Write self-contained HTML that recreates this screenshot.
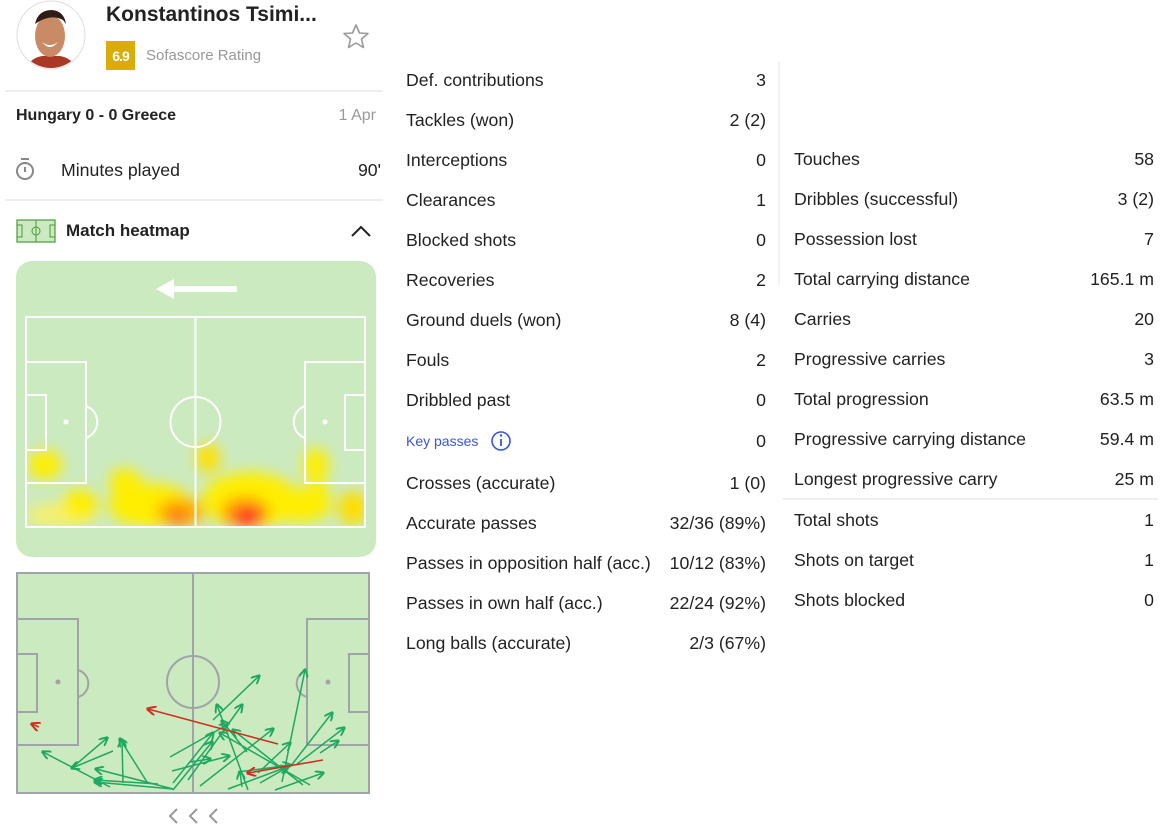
<!DOCTYPE html>
<html><head><meta charset="utf-8"><style>
*{margin:0;padding:0;box-sizing:border-box}
body{width:1175px;height:837px;background:#fff;font-family:"Liberation Sans",sans-serif;color:#222;position:relative;overflow:hidden}
.a{position:absolute;white-space:nowrap}
.l{font-size:17.7px;line-height:20px}
.r{font-size:17.7px;line-height:20px;text-align:right}
</style></head><body>
<svg class="a" style="left:0;top:0" width="1175" height="837">
 <circle cx="51" cy="35" r="34" fill="#fff" stroke="#ddd"/>
 <clipPath id="cp"><circle cx="51" cy="35" r="33"/></clipPath>
 <g clip-path="url(#cp)">
  <path d="M25 70 Q30 58 42 56 L60 56 Q72 58 78 70Z" fill="#a83a25"/>
  <ellipse cx="50" cy="36" rx="15" ry="21" fill="#c98a66"/>
  <path d="M35 24 Q38 10 52 10 Q64 11 66 24 L63 20 Q52 14 38 22Z" fill="#2d1d14"/>
  <path d="M42 42 Q50 48 58 42 Q50 52 42 42Z" fill="#fff"/>
 </g>
 <rect x="106" y="41" width="29" height="29" fill="#d9ac0a"/>
 <text x="120.5" y="61" font-family="Liberation Sans" font-size="14" font-weight="bold" fill="#fff" text-anchor="middle" letter-spacing="-1">6.9</text>
 <path d="M356 25 L359.5 33 L368 33.5 L361.5 39 L363.5 47.5 L356 43 L348.5 47.5 L350.5 39 L344 33.5 L352.5 33 Z" fill="none" stroke="#999" stroke-width="1.6" stroke-linejoin="round"/>
 <line x1="5" y1="91" x2="383" y2="91" stroke="#ddd"/>
 <line x1="5" y1="200" x2="383" y2="200" stroke="#ddd"/>
 <circle cx="25" cy="171" r="8" fill="none" stroke="#888" stroke-width="2"/>
 <line x1="21" y1="159" x2="29" y2="159" stroke="#888" stroke-width="2"/>
 <line x1="25" y1="167" x2="25" y2="172" stroke="#888" stroke-width="2"/>
 <rect x="17" y="220" width="38" height="22" fill="#cbeac0" stroke="#4a9a3a" stroke-width="1.2"/>
 <line x1="36" y1="220" x2="36" y2="242" stroke="#4a9a3a"/>
 <circle cx="36" cy="231" r="4" fill="none" stroke="#4a9a3a"/>
 <rect x="17" y="225" width="5" height="12" fill="none" stroke="#4a9a3a"/>
 <rect x="50" y="225" width="5" height="12" fill="none" stroke="#4a9a3a"/>
 <path d="M352 236 L361 227 L370 236" fill="none" stroke="#222" stroke-width="2"/>
 <rect x="16" y="261" width="360" height="296" rx="16" fill="#cbeac0"/>
 <path d="M172 289 L237 289" stroke="#fff" stroke-width="6"/>
 <path d="M156 289 L174 279 L174 299Z" fill="#fff"/>
 <filter id="bl" x="-50%" y="-50%" width="200%" height="200%"><feGaussianBlur stdDeviation="7"/></filter>
 <clipPath id="pc"><rect x="26" y="317" width="339" height="210"/></clipPath>
 <g clip-path="url(#pc)" filter="url(#bl)">
  <ellipse cx="60" cy="515" rx="35" ry="12" fill="#f4f070"/>
  <ellipse cx="45" cy="465" rx="17" ry="15" fill="#ffee00"/>
  <ellipse cx="80" cy="505" rx="18" ry="16" fill="#ffee00"/>
  <ellipse cx="125" cy="482" rx="16" ry="14" fill="#ffee00"/>
  <ellipse cx="150" cy="505" rx="42" ry="22" fill="#ffee00"/>
  <ellipse cx="208" cy="458" rx="12" ry="15" fill="#ffe000"/>
  <ellipse cx="180" cy="512" rx="24" ry="14" fill="#ffb000"/>
  <ellipse cx="178" cy="516" rx="11" ry="8" fill="#ff7010"/>
  <ellipse cx="250" cy="500" rx="48" ry="28" fill="#ffee00"/>
  <ellipse cx="245" cy="512" rx="24" ry="15" fill="#ff9a00"/>
  <ellipse cx="248" cy="517" rx="15" ry="10" fill="#ff2020"/>
  <ellipse cx="300" cy="505" rx="32" ry="17" fill="#ffee00"/>
  <ellipse cx="316" cy="465" rx="13" ry="17" fill="#ffee00"/>
  <ellipse cx="318" cy="492" rx="11" ry="11" fill="#ffee00"/>
  <ellipse cx="353" cy="508" rx="15" ry="17" fill="#ffdd00"/>
 </g>
 <g fill="none" stroke="#fff" stroke-width="2">
  <rect x="26" y="317" width="339" height="210"/>
  <line x1="195.5" y1="317" x2="195.5" y2="527"/>
  <circle cx="195.5" cy="422" r="25"/>
  <rect x="26" y="362" width="60" height="121"/>
  <rect x="26" y="395" width="20" height="55"/>
  <rect x="305" y="362" width="60" height="121"/>
  <rect x="345" y="395" width="20" height="55"/>
  <path d="M86 406 A17 17 0 0 1 86 438"/>
  <path d="M305 406 A17 17 0 0 0 305 438"/>
 </g>
 <circle cx="66" cy="422" r="2.5" fill="#fff"/><circle cx="325" cy="422" r="2.5" fill="#fff"/>
 <rect x="17" y="573" width="352" height="220" fill="#cbeac0" stroke="#a0a4a8" stroke-width="2"/>
 <g fill="none" stroke="#a0a4a8" stroke-width="2">
  <line x1="193" y1="573" x2="193" y2="793"/>
  <circle cx="193" cy="682" r="26"/>
  <rect x="17" y="619" width="61" height="126"/>
  <rect x="17" y="654" width="20" height="58"/>
  <rect x="307" y="619" width="62" height="126"/>
  <rect x="349" y="654" width="20" height="58"/>
  <path d="M78 670 A14 14 0 0 1 78 697"/>
  <path d="M307 670 A14 14 0 0 0 307 697"/>
 </g>
 <circle cx="58" cy="682" r="2.5" fill="#a0a4a8"/><circle cx="328" cy="682" r="2.5" fill="#a0a4a8"/>
 <defs>
  <marker id="mg" markerWidth="6" markerHeight="6" refX="5" refY="3" orient="auto"><path d="M0 0L6 3L0 6" fill="none" stroke="#1fa860" stroke-width="1.3"/></marker>
  <marker id="mr" markerWidth="6" markerHeight="6" refX="5" refY="3" orient="auto"><path d="M0 0L6 3L0 6" fill="none" stroke="#d03020" stroke-width="1.3"/></marker>
 </defs>
 <g stroke="#1fa860" stroke-width="1.5" marker-end="url(#mg)">
  <line x1="73" y1="767" x2="107" y2="738"/>
  <line x1="113" y1="751" x2="72" y2="768"/>
  <line x1="147" y1="782" x2="120" y2="739"/>
  <line x1="123" y1="783" x2="122" y2="740"/>
  <line x1="110" y1="787" x2="43" y2="752"/>
  <line x1="173" y1="789" x2="96" y2="769"/>
  <line x1="173" y1="789" x2="95" y2="782"/>
  <line x1="158" y1="784" x2="95" y2="780"/>
  <line x1="173" y1="783" x2="213" y2="733"/>
  <line x1="170" y1="757" x2="227" y2="725"/>
  <line x1="173" y1="790" x2="212" y2="742"/>
  <line x1="188" y1="780" x2="242" y2="705"/>
  <line x1="213" y1="720" x2="259" y2="676"/>
  <line x1="172" y1="771" x2="229" y2="756"/>
  <line x1="190" y1="762" x2="210" y2="759"/>
  <line x1="200" y1="786" x2="273" y2="729"/>
  <line x1="248" y1="790" x2="217" y2="705"/>
  <line x1="247" y1="752" x2="222" y2="721"/>
  <line x1="303" y1="785" x2="233" y2="730"/>
  <line x1="242" y1="787" x2="240" y2="772"/>
  <line x1="258" y1="773" x2="290" y2="743"/>
  <line x1="282" y1="782" x2="305" y2="670"/>
  <line x1="290" y1="767" x2="332" y2="713"/>
  <line x1="297" y1="764" x2="344" y2="728"/>
  <line x1="320" y1="753" x2="338" y2="741"/>
  <line x1="275" y1="790" x2="323" y2="773"/>
  <line x1="228" y1="789" x2="287" y2="767"/>
  <line x1="260" y1="783" x2="288" y2="767"/>
  <line x1="310" y1="785" x2="220" y2="733"/>
  <line x1="238" y1="772" x2="290" y2="765"/>
 </g>
 <g stroke="#d03020" stroke-width="1.6" marker-end="url(#mr)">
  <line x1="278" y1="744" x2="148" y2="709"/>
  <line x1="323" y1="760" x2="248" y2="773"/>
  <line x1="39" y1="727" x2="32" y2="724"/>
 </g>
 <g fill="none" stroke="#999" stroke-width="2">
  <path d="M177 809 L170 816 L177 823"/><path d="M197 809 L190 816 L197 823"/><path d="M217 809 L210 816 L217 823"/>
 </g>
 <line x1="779" y1="62" x2="779" y2="285" stroke="#e4e4e4"/>
 <line x1="783" y1="499" x2="1158" y2="499" stroke="#ddd"/>
 <circle cx="501" cy="441" r="9" fill="none" stroke="#3a55d8" stroke-width="1.6"/>
 <line x1="501" y1="439" x2="501" y2="446" stroke="#3a55d8" stroke-width="1.8"/>
 <circle cx="501" cy="435.5" r="1.2" fill="#3a55d8"/>
</svg>
<div class="a" style="left:106px;top:2px;font-size:21px;font-weight:bold;line-height:26px">Konstantinos Tsimi...</div>
<div class="a" style="left:146px;top:46px;font-size:15px;color:#999;line-height:20px">Sofascore Rating</div>
<div class="a" style="left:16px;top:106px;font-size:16px;font-weight:bold;line-height:20px">Hungary 0 - 0 Greece</div>
<div class="a" style="right:799px;top:106px;font-size:16px;color:#999;line-height:20px">1 Apr</div>
<div class="a l" style="left:61px;top:160px">Minutes played</div>
<div class="a r" style="right:794px;top:160px">90'</div>
<div class="a" style="left:66px;top:221px;font-size:17px;font-weight:bold;line-height:20px">Match heatmap</div>

<div class="a l" style="left:406px;top:70px">Def. contributions</div><div class="a r" style="right:409px;top:70px">3</div>
<div class="a l" style="left:406px;top:110px">Tackles (won)</div><div class="a r" style="right:409px;top:110px">2 (2)</div>
<div class="a l" style="left:406px;top:150px">Interceptions</div><div class="a r" style="right:409px;top:150px">0</div>
<div class="a l" style="left:406px;top:190px">Clearances</div><div class="a r" style="right:409px;top:190px">1</div>
<div class="a l" style="left:406px;top:230px">Blocked shots</div><div class="a r" style="right:409px;top:230px">0</div>
<div class="a l" style="left:406px;top:270px">Recoveries</div><div class="a r" style="right:409px;top:270px">2</div>
<div class="a l" style="left:406px;top:310px">Ground duels (won)</div><div class="a r" style="right:409px;top:310px">8 (4)</div>
<div class="a l" style="left:406px;top:350px">Fouls</div><div class="a r" style="right:409px;top:350px">2</div>
<div class="a l" style="left:406px;top:390px">Dribbled past</div><div class="a r" style="right:409px;top:390px">0</div>
<div class="a" style="left:406px;top:432px;font-size:14px;color:#3a55d8;line-height:18px">Key passes</div><div class="a r" style="right:409px;top:431px">0</div>
<div class="a l" style="left:406px;top:473px">Crosses (accurate)</div><div class="a r" style="right:409px;top:473px">1 (0)</div>
<div class="a l" style="left:406px;top:513px">Accurate passes</div><div class="a r" style="right:409px;top:513px">32/36 (89%)</div>
<div class="a l" style="left:406px;top:553px">Passes in opposition half (acc.)</div><div class="a r" style="right:409px;top:553px">10/12 (83%)</div>
<div class="a l" style="left:406px;top:593px">Passes in own half (acc.)</div><div class="a r" style="right:409px;top:593px">22/24 (92%)</div>
<div class="a l" style="left:406px;top:633px">Long balls (accurate)</div><div class="a r" style="right:409px;top:633px">2/3 (67%)</div>

<div class="a l" style="left:794px;top:149px">Touches</div><div class="a r" style="right:21px;top:149px">58</div>
<div class="a l" style="left:794px;top:189px">Dribbles (successful)</div><div class="a r" style="right:21px;top:189px">3 (2)</div>
<div class="a l" style="left:794px;top:229px">Possession lost</div><div class="a r" style="right:21px;top:229px">7</div>
<div class="a l" style="left:794px;top:269px">Total carrying distance</div><div class="a r" style="right:21px;top:269px">165.1 m</div>
<div class="a l" style="left:794px;top:309px">Carries</div><div class="a r" style="right:21px;top:309px">20</div>
<div class="a l" style="left:794px;top:349px">Progressive carries</div><div class="a r" style="right:21px;top:349px">3</div>
<div class="a l" style="left:794px;top:389px">Total progression</div><div class="a r" style="right:21px;top:389px">63.5 m</div>
<div class="a l" style="left:794px;top:429px">Progressive carrying distance</div><div class="a r" style="right:21px;top:429px">59.4 m</div>
<div class="a l" style="left:794px;top:469px">Longest progressive carry</div><div class="a r" style="right:21px;top:469px">25 m</div>
<div class="a l" style="left:794px;top:510px">Total shots</div><div class="a r" style="right:21px;top:510px">1</div>
<div class="a l" style="left:794px;top:550px">Shots on target</div><div class="a r" style="right:21px;top:550px">1</div>
<div class="a l" style="left:794px;top:590px">Shots blocked</div><div class="a r" style="right:21px;top:590px">0</div>
</body></html>
